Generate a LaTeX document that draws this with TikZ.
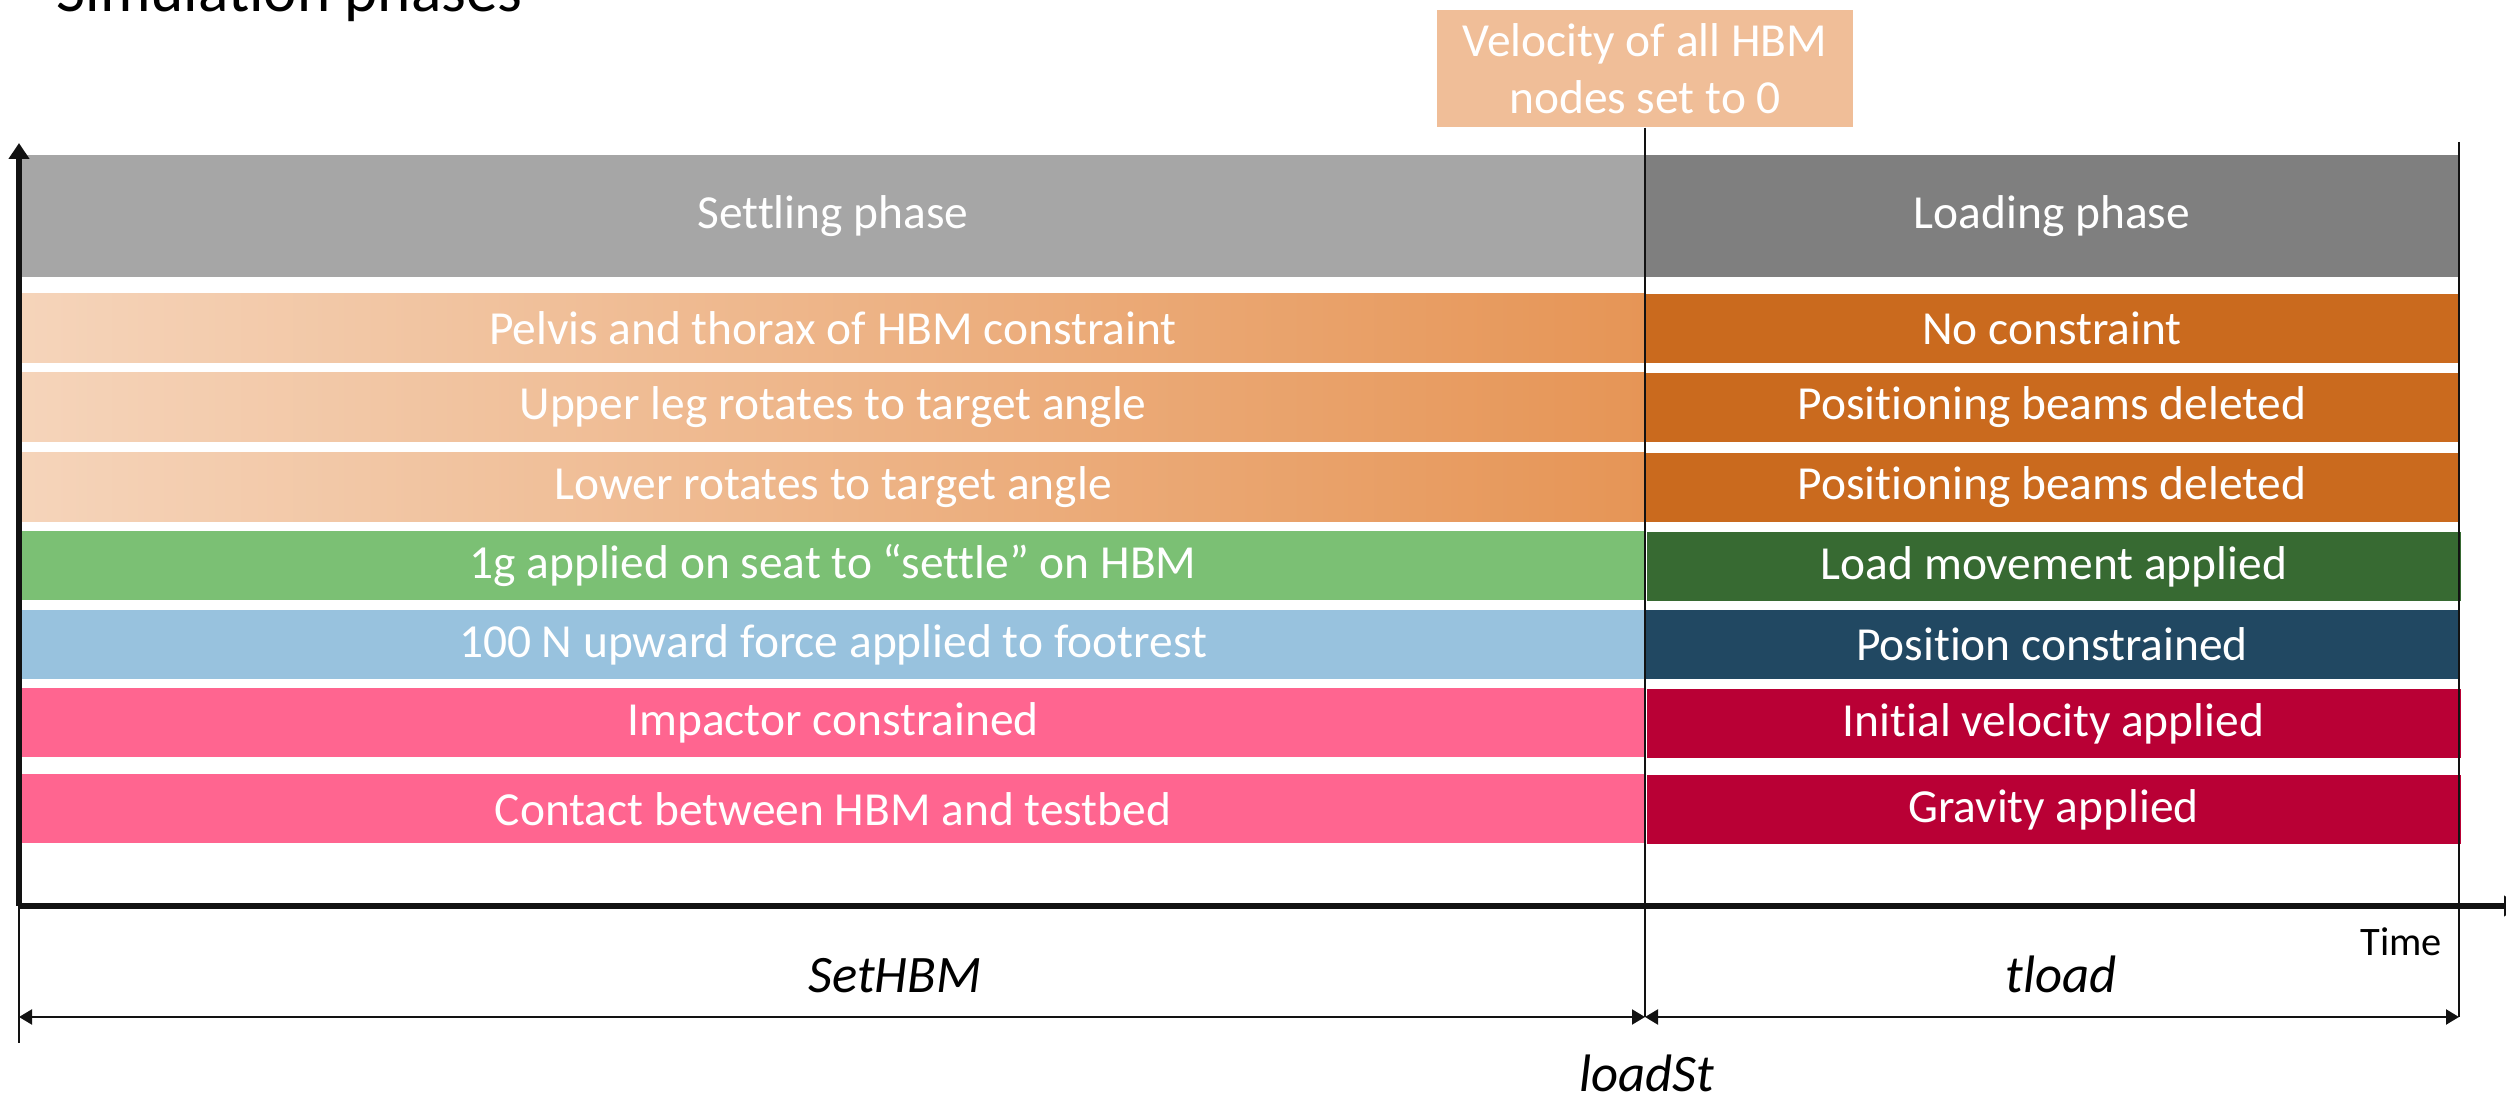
\documentclass[tikz,border=0pt]{standalone}
\usepackage{fontspec}
\setmainfont{Carlito}[Ligatures=NoCommon]
\usetikzlibrary{arrows.meta}
\definecolor{greyL}{HTML}{A6A6A6}
\definecolor{greyR}{HTML}{7F7F7F}
\definecolor{orangeA}{HTML}{F5D4BA}
\definecolor{orangeB}{HTML}{E69556}
\definecolor{orangeR}{HTML}{CA6A1E}
\definecolor{greenL}{HTML}{7BC074}
\definecolor{greenR}{HTML}{376A32}
\definecolor{blueL}{HTML}{98C2DE}
\definecolor{blueR}{HTML}{214862}
\definecolor{pinkL}{HTML}{FF6590}
\definecolor{redR}{HTML}{B90035}
\definecolor{velo}{HTML}{F0BE98}
\definecolor{ink}{HTML}{121212}
\begin{document}
\begin{tikzpicture}
[every node/.style={text=white,inner sep=0pt,font=\fontsize{13.5}{16.2}\selectfont},
 setbox/.style={minimum width=16.22cm,minimum height=0.69cm},
 loadbox/.style={minimum width=8.14cm,minimum height=0.69cm},
 fade/.style={left color=orangeA,right color=orangeB},
 axisline/.style={line width=1.7pt,draw=ink,-{Triangle[length=0.16cm,width=0.2cm]}},
 thinline/.style={line width=0.6pt,draw=ink},
 dimline/.style={thinline,{Triangle[length=0.13cm,width=0.15cm]}-{Triangle[length=0.13cm,width=0.15cm]}},
 dimlabel/.style={text=black,font=\fontsize{15}{18}\selectfont\itshape}]
   \useasboundingbox (0,0) rectangle (25.06,11);
   % settling phase
   \node[setbox,minimum height=1.22cm,fill=greyL] (s_0) at (8.33,8.84) {Settling phase};
   \node[setbox,fade] (s_1) at (8.33,7.715) {Pelvis and thorax of HBM constraint};
   \node[setbox,fade] (s_2) at (8.33,6.925) {Upper leg rotates to target angle};
   \node[setbox,fade] (s_3) at (8.33,6.125) {Lower rotates to target angle};
   \node[setbox,fill=greenL] (s_4) at (8.33,5.345) {1g applied on seat to “settle” on HBM};
   \node[setbox,fill=blueL] (s_5) at (8.33,4.555) {100 N upward force applied to footrest};
   \node[setbox,fill=pinkL] (s_6) at (8.33,3.77) {Impactor constrained};
   \node[setbox,fill=pinkL] (s_7) at (8.33,2.91) {Contact between HBM and testbed};
   % loading phase
   \node[loadbox,minimum height=1.22cm,fill=greyR] (l_0) at (20.52,8.84) {Loading phase};
   \node[loadbox,fill=orangeR] (l_1) at (20.52,7.715) {No constraint};
   \node[loadbox,fill=orangeR] (l_2) at (20.52,6.925) {Positioning beams deleted};
   \node[loadbox,fill=orangeR] (l_3) at (20.52,6.125) {Positioning beams deleted};
   \node[loadbox,fill=greenR] (l_4) at (20.54,5.335) {Load movement applied};
   \node[loadbox,fill=blueR] (l_5) at (20.52,4.555) {Position constrained};
   \node[loadbox,fill=redR] (l_6) at (20.535,3.765) {Initial velocity applied};
   \node[loadbox,fill=redR] (l_7) at (20.535,2.905) {Gravity applied};
   \node[fill=velo,minimum width=4.16cm,minimum height=1.17cm,align=center] (v) at (16.45,10.315) {Velocity of all HBM\\nodes set to 0};
   % axes and time marks
   \coordinate (o) at (0.19,1.94);
   \coordinate (ytip) at (0.19,9.57);
   \coordinate (xtip) at (25.2,1.94);
   \coordinate (otick) at (0.19,0.57);
   \coordinate (dimL) at (0.19,0.83);
   \coordinate (dimM) at (16.45,0.83);
   \coordinate (dimR) at (24.59,0.83);
   \coordinate (rtop) at (24.59,9.58);
    \path[thinline]
    (v.south) edge (dimM)
    (rtop) edge (dimR)
    (o) edge (otick);
    \draw[dimline] (dimL) -- (dimM);
    \draw[dimline] (dimM) -- (dimR);
    \draw[axisline] (o) -- (ytip);
    \draw[axisline] (o) -- (xtip);
   \node[dimlabel,anchor=base] (t_set) at (8.95,1.07) {SetHBM};
   \node[dimlabel,anchor=base] (t_load) at (20.61,1.07) {tload};
   \node[dimlabel,anchor=base] (t_st) at (16.47,0.08) {loadSt};
   \node[text=black,font=\fontsize{11.5}{14}\selectfont,anchor=base] (t_time) at (24.01,1.44) {Time};
   \node[text=black,font=\fontsize{18}{22}\selectfont,anchor=base west] (title) at (0.56,10.88) {Simulation phases};
\end{tikzpicture}
\end{document}
